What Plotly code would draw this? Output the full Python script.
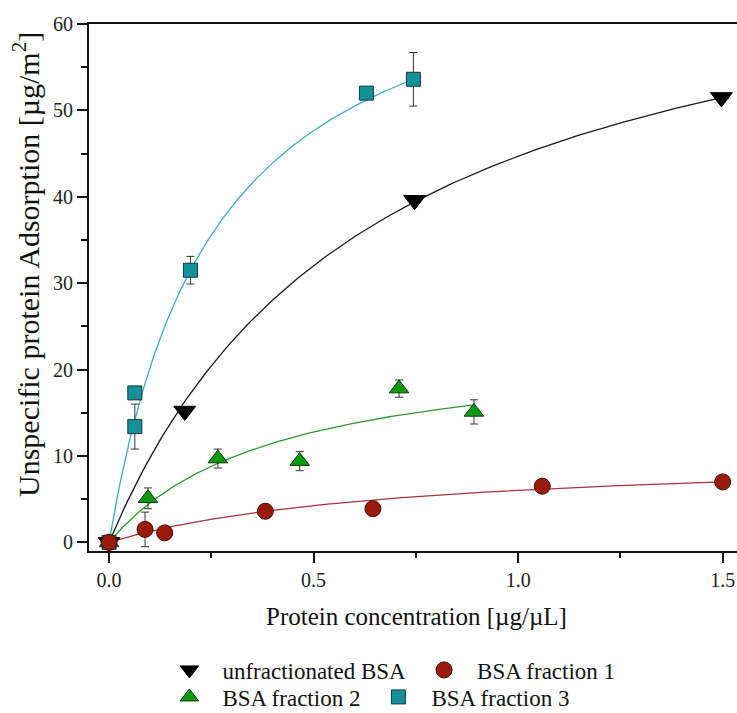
import numpy as np
import plotly.graph_objects as go

# Protein concentration [ug/uL] and adsorbed amount [ug/m^2] per sample
unfrac_x = [0.0, 0.185, 0.747, 1.497]
unfrac_y = [0.0, 15.2, 39.6, 51.5]

frac1_x = [0.0, 0.088, 0.136, 0.382, 0.645, 1.059, 1.500]
frac1_y = [0.0, 1.5, 1.1, 3.6, 3.9, 6.5, 7.0]
frac1_err = [0.0, 2.0, 0.4, 0.4, 0.4, 0.3, 0.5]

frac2_x = [0.0, 0.095, 0.266, 0.466, 0.709, 0.892]
frac2_y = [0.0, 5.1, 9.7, 9.4, 17.8, 15.1]
frac2_err = [0.0, 1.2, 1.1, 1.1, 1.0, 1.4]

frac3_x = [0.0, 0.063, 0.063, 0.199, 0.629, 0.744]
frac3_y = [0.0, 17.3, 13.4, 31.5, 52.0, 53.6]
frac3_err = [0.0, 0.7, 2.6, 1.6, 0.7, 3.1]

# Langmuir isotherm fit parameters (Bmax, Kd): y = Bmax * x / (Kd + x)
fit_unfrac = (73.97, 0.6546)
fit_frac1 = (10.33, 0.7146)
fit_frac2 = (23.19, 0.408)
fit_frac3 = (72.07, 0.2563)

FONT = "Liberation Serif"


def langmuir_curve(params, x_max, n=200):
    bmax, kd = params
    xs = np.linspace(0.0, x_max, n)
    return xs, bmax * xs / (kd + xs)


fig = go.Figure()

# fitted isotherms drawn beneath the markers
for params, xs_data, color in [
    (fit_frac3, frac3_x, "#3aaeb6"),
    (fit_unfrac, unfrac_x, "#1a1a1a"),
    (fit_frac2, frac2_x, "#2f9a2f"),
    (fit_frac1, frac1_x, "#a8323c"),
]:
    cx, cy = langmuir_curve(params, max(xs_data))
    fig.add_trace(go.Scatter(x=cx, y=cy, mode="lines", showlegend=False,
                             hoverinfo="skip",
                             line=dict(color=color, width=1.3)))

err_style = dict(type="data", visible=True, color="#333333",
                 thickness=1, width=4)

fig.add_trace(go.Scatter(
    x=frac2_x, y=frac2_y, mode="markers", name="BSA fraction 2",
    legend="legend2",
    error_y=dict(array=frac2_err, **err_style),
    marker=dict(symbol="triangle-up", size=17, color="#0f990f",
                line=dict(color="#083808", width=1))))

fig.add_trace(go.Scatter(
    x=frac3_x, y=frac3_y, mode="markers", name="BSA fraction 3",
    legend="legend2",
    error_y=dict(array=frac3_err, **err_style),
    marker=dict(symbol="square", size=14, color="#17909a",
                line=dict(color="#0c3b40", width=1))))

fig.add_trace(go.Scatter(
    x=unfrac_x, y=unfrac_y, mode="markers", name="unfractionated BSA",
    legend="legend",
    marker=dict(symbol="triangle-down", size=19, color="#000000",
                line=dict(color="#000000", width=1))))

fig.add_trace(go.Scatter(
    x=frac1_x, y=frac1_y, mode="markers", name="BSA fraction 1",
    legend="legend",
    error_y=dict(array=frac1_err, **err_style),
    marker=dict(symbol="circle", size=16, color="#9c1a0a",
                line=dict(color="#3a0a05", width=1))))

legend_common = dict(orientation="h", xanchor="left", yanchor="middle",
                     font=dict(family=FONT, size=23, color="#111111"),
                     bgcolor="rgba(0,0,0,0)", borderwidth=0,
                     itemwidth=56, tracegroupgap=0, traceorder="normal")

fig.update_layout(
    width=737, height=713,
    margin=dict(l=89, r=0, t=24, b=162, autoexpand=False),
    paper_bgcolor="white", plot_bgcolor="white",
    font=dict(family=FONT, size=20, color="#111111"),
    legend=dict(x=0.104, y=-0.2258, **legend_common),
    legend2=dict(x=0.104, y=-0.277, **legend_common),
    xaxis=dict(range=[-0.049, 1.535], tickvals=[0, 0.5, 1.0, 1.5],
               tickformat=".1f", showgrid=False, zeroline=False,
               showline=True, linecolor="#111111", linewidth=2,
               mirror=True, ticks="outside", ticklen=10, tickwidth=1.5,
               tickcolor="#111111",
               minor=dict(tickvals=[0.25, 0.75, 1.25], ticks="outside",
                          ticklen=5, tickwidth=1.5, tickcolor="#111111"),
               tickfont=dict(family=FONT, size=20, color="#222222")),
    yaxis=dict(range=[-1, 60], tickvals=[0, 10, 20, 30, 40, 50, 60],
               showgrid=False, zeroline=False,
               showline=True, linecolor="#111111", linewidth=2,
               ticks="outside", ticklen=10, tickwidth=1.5,
               tickcolor="#111111",
               minor=dict(tickvals=[5, 15, 25, 35, 45, 55], ticks="outside",
                          ticklen=6, tickwidth=1.5, tickcolor="#111111"),
               tickfont=dict(family=FONT, size=20, color="#222222")),
    annotations=[
        dict(text="Unspecific protein Adsorption [µg/m<sup>2</sup>]",
             xref="paper", yref="paper", x=-0.0972, y=0.5427,
             xanchor="center", yanchor="middle", textangle=-90,
             showarrow=False, font=dict(family=FONT, size=30, color="#111111")),
        dict(text="Protein concentration [µg/µL]",
             xref="paper", yref="paper", x=0.505, y=-0.125,
             xanchor="center", yanchor="middle",
             showarrow=False, font=dict(family=FONT, size=25, color="#111111")),
    ],
)

fig.write_html("out.html")
